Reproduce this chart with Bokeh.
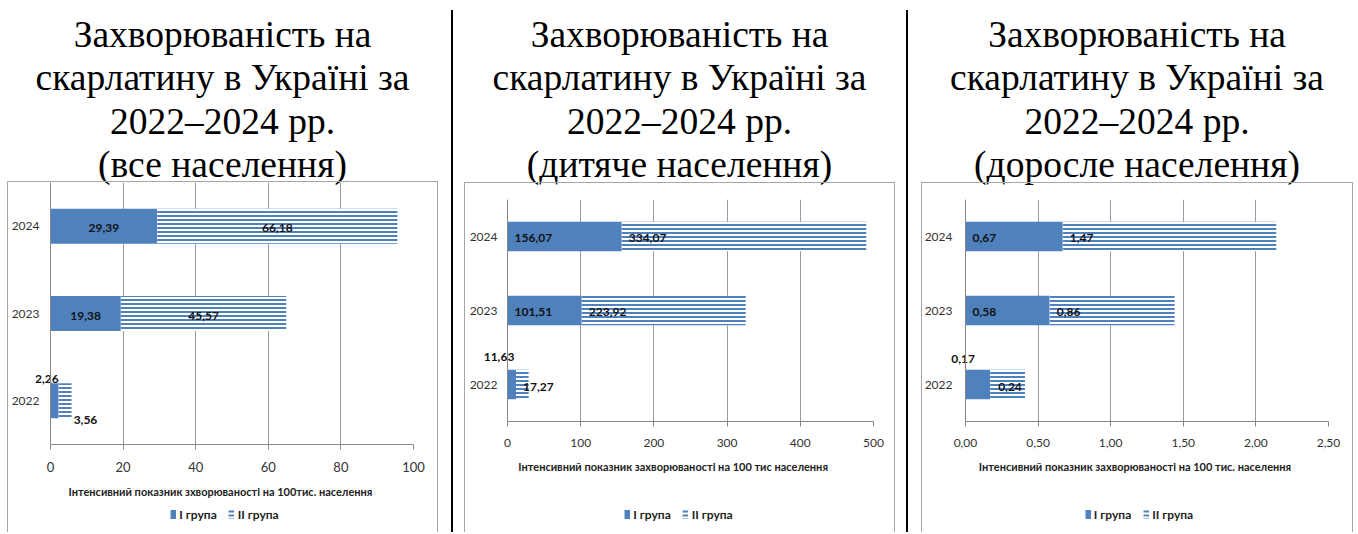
from bokeh.plotting import figure
from bokeh.models import (FactorRange, Range1d, FixedTicker, Legend, LegendItem, Div, Spacer,
                          ColumnDataSource, CustomJSTickFormatter, Span)
from bokeh.layouts import row, column
from bokeh.core.properties import value, field
from bokeh.embed import file_html
from bokeh.resources import INLINE

# ---------------- data ----------------
years = ["2022", "2023", "2024"]
series_names = ["I група", "II група"]
title_lines = ["Захворюваність на", "скарлатину в Україні за", "2022–2024 рр."]
subtitles = ["(все населення)", "(дитяче населення)", "(доросле населення)"]

all_g1 = [2.26, 19.38, 29.39]
all_g2 = [3.56, 45.57, 66.18]
child_g1 = [11.63, 101.51, 156.07]
child_g2 = [17.27, 223.92, 334.07]
adult_g1 = [0.17, 0.58, 0.67]
adult_g2 = [0.24, 0.86, 1.47]

x_titles = [
    "Інтенсивний  показник  зхворюваності  на 100тис. населення",
    "Інтенсивний  показник  захворюваності  на 100 тис  населення",
    "Інтенсивний  показник  захворюваності  на 100 тис. населення",
]
ticks_all = [0, 20, 40, 60, 80, 100]
ticks_child = [0, 100, 200, 300, 400, 500]
ticks_adult = [0.0, 0.5, 1.0, 1.5, 2.0, 2.5]

# ---------------- style ----------------
BLUE = "#4f81bd"
SANS = "Lato"
AXIS_GRAY = "#888888"
FRAME = "#a6a6a6"
BAR_STYLE = [dict(fill_color=BLUE, line_color=None),
             dict(fill_color="white", line_color=None, hatch_pattern="horizontal_line",
                  hatch_color=BLUE, hatch_scale=4, hatch_weight=2)]

# label placement per panel: (anchor, align, dx, dy) for g1 (2022,2023,2024) then g2
place_all = [("end", "right", 0, -22), ("mid", "center", 0, 2), ("mid", "center", 0, 2),
             ("end", "left", 2, 19), ("mid", "center", 0, 2), ("mid", "center", 0, 2)]
place_child = [("end", "center", -17, -28), ("start", "left", 7, 1), ("start", "left", 7, 1),
               ("start", "left", 7, 2), ("start", "left", 7, 1), ("start", "left", 7, 1)]
place_adult = [("end", "center", -27, -26), ("start", "left", 7, 1), ("start", "left", 7, 1),
               ("start", "left", 8, 2), ("start", "left", 7, 1), ("start", "left", 7, 1)]


def fmt(v):
    return f"{v:.2f}".replace(".", ",")


def bars(fig, src, height=0.4):
    r1 = fig.hbar(y="year", left="zero", right="g1", height=height, source=src, **BAR_STYLE[0])
    r2 = fig.hbar(y="year", left="g1", right="tot", height=height, source=src, **BAR_STYLE[1])
    return [r1, r2]


def make_panel(g1, g2, ticks, decimals, xtitle, place, w, h, zero_px, bl, br, bt, bb,
               ylab_standoff, tick_fs):
    xmax = ticks[-1]
    plot_px = w - bl - br  # frame width in px
    # frame extends left of value 0 by zero_px so that overflowing labels stay visible
    px_per_unit = (plot_px - zero_px) / xmax
    x_start = -zero_px / px_per_unit
    p = figure(width=w, height=h, title=None,
               y_range=FactorRange(factors=years, range_padding=0),
               x_range=Range1d(x_start, xmax),
               output_backend="svg", toolbar_location=None,
               min_border_left=bl, min_border_right=br, min_border_top=bt, min_border_bottom=bb)
    p.border_fill_color = None
    p.background_fill_color = None
    p.outline_line_color = None
    p.styles = {"box-shadow": f"inset 1px 0 0 {FRAME}, inset -1px 0 0 {FRAME}, inset 0 1px 0 {FRAME}"}

    p.ygrid.visible = False
    p.xgrid.grid_line_color = "#9a9a9a"
    p.xgrid.ticker = FixedTicker(ticks=ticks)

    tot = [a + b for a, b in zip(g1, g2)]
    src = ColumnDataSource(dict(year=years, g1=g1, g2=g2, tot=tot, zero=[0] * len(years)))
    bars(p, src)

    # vertical value axis line at 0
    p.add_layout(Span(location=0, dimension="height", line_color=AXIS_GRAY, line_width=1))

    # data labels
    lx, ly, lt, la, ldx, ldy = [], [], [], [], [], []
    for k, (vals, starts) in enumerate([(g1, [0] * 3), (g2, g1)]):
        for i in range(3):
            anchor, align, dx, dy = place[k * 3 + i]
            s, v = starts[i], vals[i]
            x = {"start": s, "mid": s + v / 2, "end": s + v}[anchor]
            lx.append(x); ly.append(years[i]); lt.append(fmt(v))
            la.append(align); ldx.append(dx); ldy.append(dy)
    lsrc = ColumnDataSource(dict(x=lx, y=ly, t=lt, a=la, dx=ldx, dy=ldy))
    p.text(x="x", y="y", text="t", source=lsrc, text_align=field("a"),
           x_offset="dx", y_offset="dy", text_baseline="middle",
           text_font=value(SANS), text_font_size="12px", text_font_style="bold",
           text_color="#111111")

    # axes
    p.xaxis.ticker = FixedTicker(ticks=ticks)
    p.xaxis.bounds = (0, xmax)
    p.xaxis.formatter = CustomJSTickFormatter(
        args=dict(d=decimals), code="return d > 0 ? tick.toFixed(d).replace('.', ',') : tick.toFixed(0);")
    p.xaxis.major_tick_out = 5
    p.xaxis.major_tick_in = 0
    p.xaxis.minor_tick_line_color = None
    p.xaxis.major_label_standoff = 12
    p.xaxis.major_label_text_font = SANS
    p.xaxis.major_label_text_font_size = tick_fs
    p.xaxis.major_label_text_color = "#333333"
    p.xaxis.axis_line_color = AXIS_GRAY
    p.xaxis.major_tick_line_color = AXIS_GRAY
    p.xaxis.axis_label = xtitle
    p.xaxis.axis_label_text_font = SANS
    p.xaxis.axis_label_text_font_size = "11px"
    p.xaxis.axis_label_text_font_style = "bold"
    p.xaxis.axis_label_text_color = "#222222"
    p.xaxis.axis_label_standoff = 10

    p.yaxis.axis_line_color = None
    p.yaxis.major_tick_line_color = None
    p.yaxis.major_tick_out = 0
    p.yaxis.major_tick_in = 0
    p.yaxis.major_label_standoff = ylab_standoff
    p.yaxis.major_label_text_font = SANS
    p.yaxis.major_label_text_font_size = "12px"
    p.yaxis.major_label_text_color = "#333333"
    return p, src


def legend_strip(src, w, h, top, bottom):
    # strip below the chart that only shows the legend (its bars are collapsed and out of view)
    lf = figure(width=w, height=h, title=None, x_range=Range1d(-2, -1),
                y_range=FactorRange(factors=years, range_padding=0),
                output_backend="svg", toolbar_location=None,
                x_axis_location=None, y_axis_location=None,
                min_border_left=0, min_border_right=0, min_border_top=top, min_border_bottom=bottom)
    lf.border_fill_color = None
    lf.background_fill_color = None
    lf.outline_line_color = None
    lf.grid.visible = False
    lf.styles = {"box-shadow": f"inset 1px 0 0 {FRAME}, inset -1px 0 0 {FRAME}"}
    rs = bars(lf, src, height=0)
    legend = Legend(items=[LegendItem(label=series_names[0], renderers=[rs[0]]),
                           LegendItem(label=series_names[1], renderers=[rs[1]])],
                    location="center", orientation="horizontal",
                    glyph_width=7, glyph_height=11, label_standoff=3, spacing=11,
                    padding=0, margin=0, border_line_color=None, background_fill_alpha=0,
                    label_text_font=SANS, label_text_font_size="12px",
                    label_text_font_style="bold", label_text_color="#222222",
                    label_height=14)
    lf.add_layout(legend)
    return lf


def title_div(sub, w, h):
    html = ("<div style=\"font-family:'Liberation Serif','Times New Roman',serif;font-size:37.5px;"
            "line-height:43.3px;text-align:center;color:#000;padding-top:13px;white-space:nowrap;"
            f"width:{w}px;display:block;margin:0;\">"
            + "<br>".join(title_lines + [sub]) + "</div>")
    return Div(text=html, width=w, height=h, margin=0)


def separator():
    return column(Spacer(width=2, height=10, margin=0),
                  Div(text="", width=2, height=522, margin=0, styles={"background-color": "#000"}),
                  spacing=0, margin=0)


# panel 1: title 0..181, chart 181..504 (frame 182..444), legend 504..532 (center 514)
p1, s1 = make_panel(all_g1, all_g2, ticks_all, 0, x_titles[0], place_all,
                    431, 323, 15, 28, 25, 1, 60, -4, "13px")
l1 = legend_strip(s1, 431, 28, 0, 8)
# panels 2/3: title 0..182, chart 182..481 (frame 199..421), legend 481..532 (center 514)
p2, s2 = make_panel(child_g1, child_g2, ticks_child, 0, x_titles[1], place_child,
                    431, 299, 24, 19, 22, 17, 60, -14, "12px")
l2 = legend_strip(s2, 431, 51, 23, 8)
p3, s3 = make_panel(adult_g1, adult_g2, ticks_adult, 2, x_titles[2], place_adult,
                    432, 299, 16, 27, 25, 17, 60, -3, "12px")
l3 = legend_strip(s3, 432, 51, 23, 8)

c1 = column(title_div(subtitles[0], 431, 181), p1, l1, spacing=0, margin=0)
c2 = column(title_div(subtitles[1], 431, 182), p2, l2, spacing=0, margin=0)
c3 = column(title_div(subtitles[2], 432, 182), p3, l3, spacing=0, margin=0)


def gap(wd):
    return Spacer(width=wd, height=10, margin=0)


layout = row(gap(7), c1, gap(13), separator(), gap(11),
             c2, gap(11), separator(), gap(13), c3, spacing=0, margin=0)

open("out.html", "w").write(file_html(layout, INLINE))
